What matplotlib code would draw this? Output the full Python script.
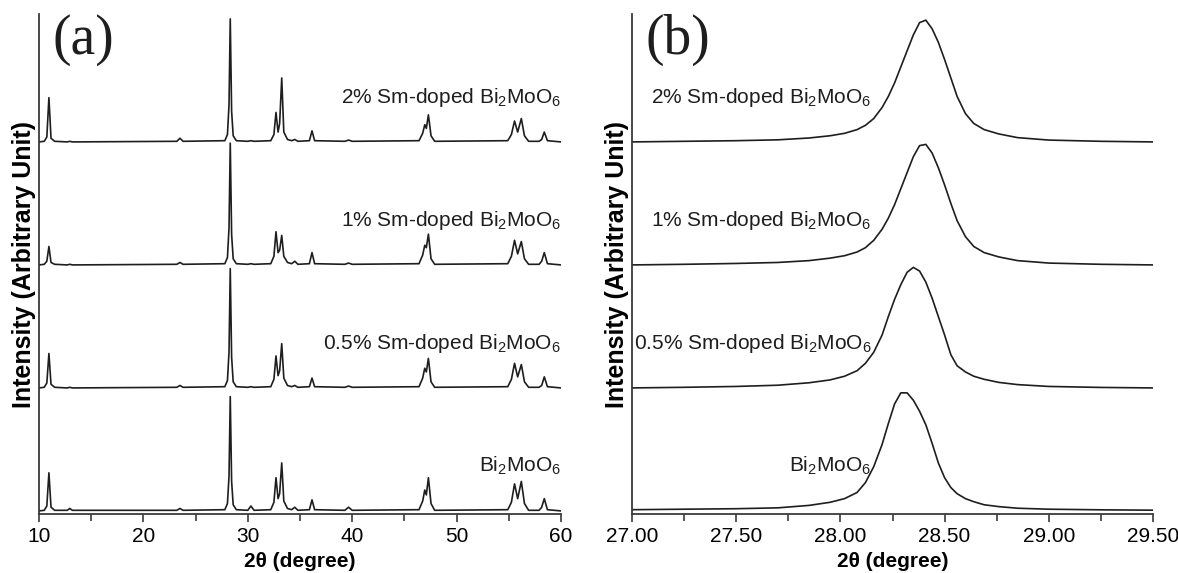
import numpy as np
import matplotlib
matplotlib.use('Agg')
import matplotlib.pyplot as plt
from matplotlib import font_manager
from matplotlib.ticker import MultipleLocator

# ---- data (intensity normalised to the 28.3 peak) ----
samples = ["Bi$_2$MoO$_6$",
           "0.5% Sm-doped Bi$_2$MoO$_6$",
           "1% Sm-doped Bi$_2$MoO$_6$",
           "2% Sm-doped Bi$_2$MoO$_6$"]

# (a) wide scan, 10-60 degrees
two_theta_a = [10.0, 10.5, 10.75, 10.95, 11.15, 11.5, 12.7, 12.95, 13.2,
               23.2, 23.5, 23.8, 27.8, 28.05, 28.2, 28.32, 28.45, 28.6, 28.9,
               30.0, 30.3, 30.6, 32.2, 32.5, 32.7, 32.9, 33.05, 33.25, 33.45,
               33.8, 34.2, 34.5, 34.8, 35.9, 36.15, 36.4, 39.3, 39.65, 40.0,
               46.4, 46.75, 46.95, 47.1, 47.3, 47.55, 47.9, 54.9, 55.25, 55.55,
               55.85, 56.2, 56.5, 56.9, 57.9, 58.15, 58.4, 58.7, 60.0]

int_pure_a = [0.0, 0.005, 0.04, 0.31, 0.03, 0.005, 0.005, 0.02, 0.005,
              0.005, 0.02, 0.005, 0.01, 0.06, 0.28, 0.93, 0.24, 0.05, 0.01,
              0.005, 0.04, 0.005, 0.01, 0.07, 0.27, 0.1, 0.14, 0.39, 0.08,
              0.02, 0.01, 0.03, 0.005, 0.01, 0.09, 0.01, 0.005, 0.03, 0.005,
              0.01, 0.08, 0.17, 0.13, 0.27, 0.06, 0.005, 0.01, 0.07, 0.22,
              0.1, 0.24, 0.06, 0.005, 0.005, 0.03, 0.1, 0.01, 0.0]

int_05_a = [0.0, 0.005, 0.04, 0.28, 0.03, 0.005, 0.0, 0.005, 0.0,
            0.005, 0.02, 0.005, 0.01, 0.06, 0.29, 0.97, 0.25, 0.05, 0.01,
            0.005, 0.01, 0.005, 0.01, 0.07, 0.26, 0.1, 0.14, 0.36, 0.08,
            0.02, 0.01, 0.02, 0.005, 0.01, 0.08, 0.01, 0.005, 0.015, 0.005,
            0.01, 0.08, 0.16, 0.13, 0.24, 0.05, 0.005, 0.01, 0.07, 0.2,
            0.09, 0.19, 0.05, 0.005, 0.005, 0.02, 0.09, 0.01, 0.0]

int_1_a = [0.0, 0.005, 0.03, 0.15, 0.02, 0.005, 0.0, 0.005, 0.0,
           0.005, 0.02, 0.005, 0.01, 0.06, 0.3, 0.99, 0.25, 0.05, 0.01,
           0.005, 0.01, 0.005, 0.01, 0.07, 0.27, 0.1, 0.12, 0.24, 0.07,
           0.02, 0.01, 0.03, 0.005, 0.01, 0.1, 0.01, 0.005, 0.015, 0.005,
           0.01, 0.08, 0.16, 0.14, 0.25, 0.05, 0.005, 0.01, 0.07, 0.2,
           0.09, 0.19, 0.05, 0.005, 0.005, 0.03, 0.1, 0.01, 0.0]

int_2_a = [0.0, 0.005, 0.04, 0.36, 0.03, 0.005, 0.0, 0.005, 0.0,
           0.005, 0.03, 0.005, 0.01, 0.06, 0.3, 1.0, 0.25, 0.05, 0.01,
           0.005, 0.01, 0.005, 0.01, 0.06, 0.24, 0.08, 0.15, 0.52, 0.08,
           0.02, 0.01, 0.02, 0.005, 0.01, 0.09, 0.01, 0.005, 0.015, 0.005,
           0.01, 0.07, 0.14, 0.11, 0.22, 0.05, 0.005, 0.01, 0.06, 0.17,
           0.08, 0.19, 0.05, 0.005, 0.005, 0.02, 0.08, 0.01, 0.0]

# (b) zoom on the main reflection, 27.0-29.5 degrees
two_theta_b = [27.0, 27.25, 27.5, 27.7, 27.85, 27.95, 28.02, 28.08, 28.12,
               28.16, 28.2, 28.23, 28.26, 28.29, 28.32, 28.35, 28.38, 28.41,
               28.44, 28.47, 28.5, 28.53, 28.56, 28.6, 28.64, 28.69, 28.76,
               28.85, 29.0, 29.25, 29.5]

int_pure_b = [0.01, 0.014, 0.018, 0.025, 0.045, 0.07, 0.1, 0.15, 0.23,
              0.36, 0.54, 0.71, 0.87, 0.96, 0.96, 0.9, 0.81, 0.7,
              0.55, 0.39, 0.27, 0.19, 0.14, 0.1, 0.075, 0.05, 0.035,
              0.022, 0.014, 0.009, 0.006]

int_05_b = [0.0, 0.005, 0.012, 0.022, 0.042, 0.065, 0.095, 0.14, 0.2,
            0.29, 0.43, 0.58, 0.72, 0.84, 0.94, 0.98, 0.95, 0.86,
            0.73, 0.58, 0.43, 0.27, 0.18, 0.13, 0.095, 0.07, 0.045,
            0.027, 0.012, 0.004, 0.0]

int_1_b = [0.0, 0.005, 0.012, 0.02, 0.035, 0.055, 0.075, 0.105, 0.14,
           0.2, 0.29, 0.38, 0.49, 0.62, 0.75, 0.88, 0.97, 0.98,
           0.91, 0.79, 0.65, 0.5, 0.36, 0.23, 0.15, 0.1, 0.065,
           0.035, 0.015, 0.005, 0.0]

int_2_b = [0.0, 0.005, 0.01, 0.017, 0.032, 0.05, 0.07, 0.1, 0.135,
           0.19, 0.28, 0.37, 0.48, 0.61, 0.74, 0.87, 0.97, 0.99,
           0.92, 0.81, 0.67, 0.52, 0.37, 0.23, 0.15, 0.1, 0.065,
           0.035, 0.015, 0.005, 0.0]

offsets = [0, 1, 2, 3]

# ---- fonts ----
names = set(f.name for f in font_manager.fontManager.ttflist)
label_font = 'Liberation Sans Narrow' if 'Liberation Sans Narrow' in names else 'Liberation Sans'
label_size = 17 if label_font.endswith('Narrow') else 15
plt.rcParams['font.family'] = ['Liberation Sans', 'DejaVu Sans']
plt.rcParams['mathtext.fontset'] = 'custom'
plt.rcParams['mathtext.rm'] = label_font
plt.rcParams['mathtext.it'] = label_font + ':italic'
plt.rcParams['mathtext.bf'] = label_font + ':bold'

ink = '#1e1e1e'
fig = plt.figure(figsize=(11.78, 5.73), dpi=100)
ax_a = fig.add_axes([39/1178, 59/573, 522/1178, 500/573])
ax_b = fig.add_axes([632/1178, 59/573, 521/1178, 500/573])

def style(ax, xlim, major, minor, fmt):
    ax.set_xlim(xlim)
    ax.set_ylim(-0.025, 4.04)
    for s in ('top', 'right'):
        ax.spines[s].set_visible(False)
    for s in ('left', 'bottom'):
        ax.spines[s].set_color('#3a3a3a')
        ax.spines[s].set_linewidth(1.3)
    ax.set_yticks([])
    ax.xaxis.set_major_locator(MultipleLocator(major))
    ax.xaxis.set_minor_locator(MultipleLocator(minor))
    ax.xaxis.set_major_formatter(fmt)
    ax.tick_params(axis='x', which='major', direction='out', length=6,
                   width=1.2, color='#3a3a3a', labelsize=15, pad=3)
    ax.tick_params(axis='x', which='minor', direction='out', length=5,
                   width=1.2, color='#3a3a3a')
    ax.set_xlabel('2\u03b8 (degree)', fontsize=15, fontweight='bold', labelpad=5)
    ax.set_ylabel('Intensity (Arbitrary Unit)', fontsize=18,
                  fontweight='bold', labelpad=2)

# (a)
series_a = [int_pure_a, int_05_a, int_1_a, int_2_a]
for off, y, name in zip(offsets, series_a, samples):
    ax_a.plot(two_theta_a, np.array(y) + off, color=ink, lw=1.2)
    ax_a.text(60, off + 0.32, name, ha='right', va='baseline',
              fontsize=label_size, family=label_font, color=ink)
style(ax_a, (10, 60), 10, 5, '{x:.0f}')
ax_a.text(0.025, 1.0, '(a)', transform=ax_a.transAxes, ha='left', va='top',
          fontsize=40, family='Liberation Serif', color=ink)

# (b)
series_b = [int_pure_b, int_05_b, int_1_b, int_2_b]
for off, y, name in zip(offsets, series_b, samples):
    ax_b.plot(two_theta_b, np.array(y) + off, color=ink, lw=1.2)
    ax_b.text(28.15, off + 0.32, name, ha='right', va='baseline',
              fontsize=label_size, family=label_font, color=ink)
style(ax_b, (27.0, 29.5), 0.5, 0.25, '{x:.2f}')
ax_b.text(0.025, 1.0, '(b)', transform=ax_b.transAxes, ha='left', va='top',
          fontsize=40, family='Liberation Serif', color=ink)

fig.savefig('out.png', dpi=100)
